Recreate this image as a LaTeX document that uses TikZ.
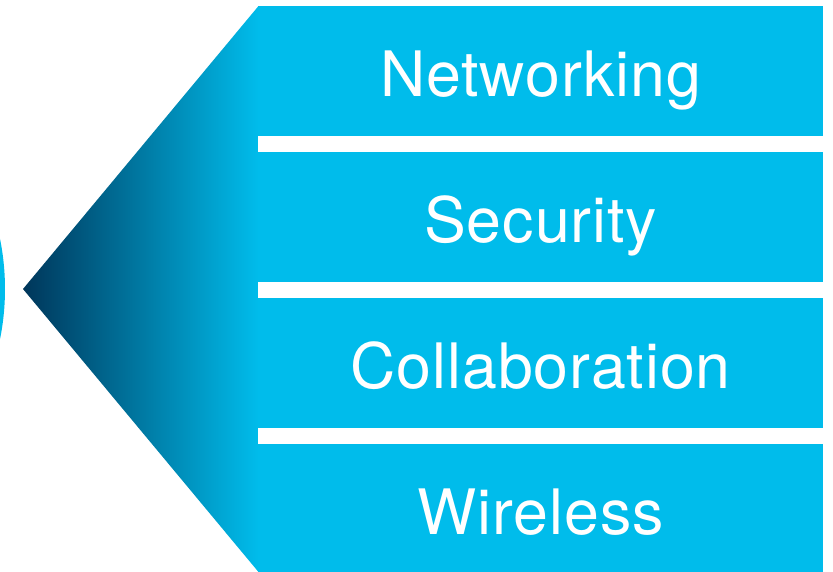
\documentclass[tikz,border=0pt]{standalone}
\usepackage{fontspec}
\setmainfont{TeX Gyre Heros}[LetterSpace=1.5]
\definecolor{ciscoblue}{RGB}{0,188,235}
\definecolor{ciscodark}{RGB}{0,54,90}
\tikzset{
  band/.style={fill=ciscoblue,text=white,inner sep=0pt,
    minimum width=423.75pt,minimum height=97.5pt,
    text height=40pt,text depth=2.5pt,
    font=\fontsize{47}{54}\selectfont},
}
\begin{document}
\begin{tikzpicture}[x=0.75pt,y=-0.75pt]
\useasboundingbox (0,0) rectangle (833,572);
\def\tipx{23} \def\tipy{289}
\def\edge{258.5}
% circle edge peeking in at the left
\begin{scope}
\clip (0,0) rectangle (833,572);
\fill[ciscoblue] (-247,\tipy) circle[radius=189pt];
\end{scope}
% arrow head
\shade[left color=ciscodark,right color=ciscoblue]
(\tipx,\tipy) -- (\edge,6) -- (\edge,572) -- cycle;
% the four bands
\foreach \name/\txt [count=\i] in {net/Networking,sec/Security,col/Collaboration,wir/Wireless}
\node[band] (\name) at (540.75,{71+146*(\i-1)}) {\txt};
\end{tikzpicture}
\end{document}
